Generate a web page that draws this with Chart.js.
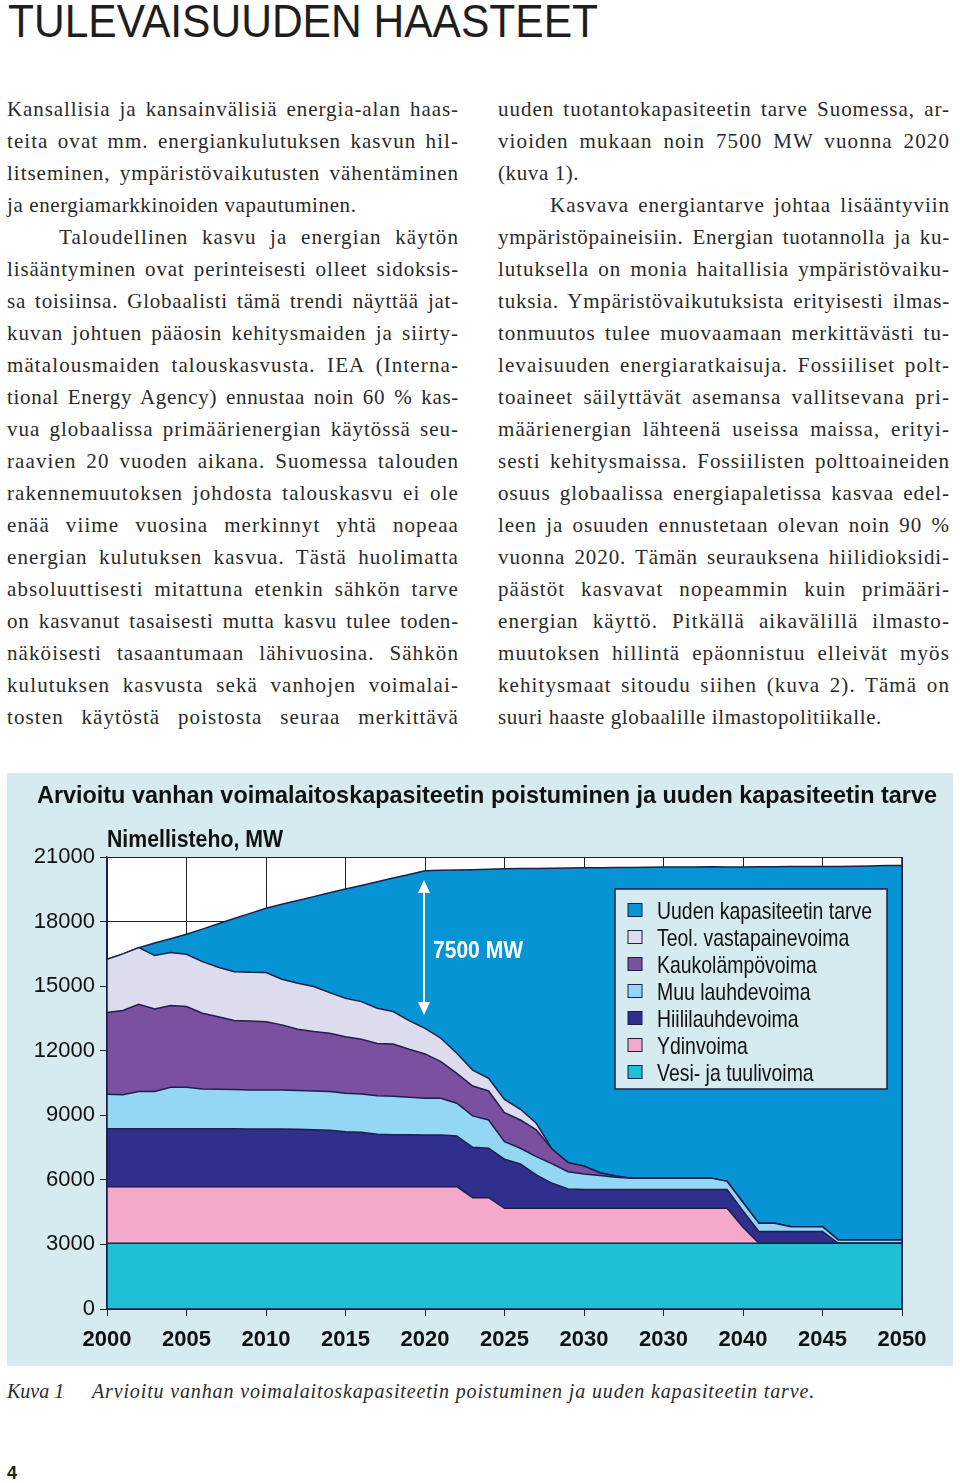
<!DOCTYPE html>
<html lang="fi">
<head>
<meta charset="utf-8">
<title>Tulevaisuuden haasteet</title>
<script src="https://cdn.jsdelivr.net/npm/chart.js@4.4.1/dist/chart.umd.min.js"></script>
<style>
  html, body { margin: 0; padding: 0; background: #fff; }
  body { width: 960px; height: 1483px; position: relative; overflow: hidden; color: #222; }
  #head { position: absolute; left: 8px; top: -4px; font: 47px/50px "Liberation Sans", Arial, sans-serif;
          white-space: nowrap; transform-origin: 0 0; color: #1e1e1e; }
  .col { position: absolute; top: 93px; width: 452px; }
  .ln { height: 32px; line-height: 32px; font-size: 21px; font-family: "Liberation Serif", "Times New Roman", serif;
        white-space: nowrap; color: #2a2a2a; letter-spacing: 0.6px; }
  .ind { padding-left: 52px; }
  #box { position: absolute; left: 7px; top: 773px; width: 946px; height: 593px; background: #d5ebf0; }
  #box canvas { display: block; }
  .cap { position: absolute; top: 1379px; font: italic 20px/24px "Liberation Serif", "Times New Roman", serif;
         white-space: nowrap; color: #2a2a2a; }
  #pg { position: absolute; left: 7px; top: 1463px; font: bold 18px/20px "Liberation Sans", Arial, sans-serif; color: #222; }
</style>
</head>
<body>
<div id="head">TULEVAISUUDEN HAASTEET</div>

<div class="col" style="left:7px">
  <div class="ln j"><span>Kansallisia ja kansainvälisiä energia-alan haas-</span></div>
  <div class="ln j"><span>teita ovat mm. energiankulutuksen kasvun hil-</span></div>
  <div class="ln j"><span>litseminen, ympäristövaikutusten vähentäminen</span></div>
  <div class="ln"><span>ja energiamarkkinoiden vapautuminen.</span></div>
  <div class="ln j ind"><span>Taloudellinen kasvu ja energian käytön</span></div>
  <div class="ln j"><span>lisääntyminen ovat perinteisesti olleet sidoksis-</span></div>
  <div class="ln j"><span>sa toisiinsa. Globaalisti tämä trendi näyttää jat-</span></div>
  <div class="ln j"><span>kuvan johtuen pääosin kehitysmaiden ja siirty-</span></div>
  <div class="ln j"><span>mätalousmaiden talouskasvusta. IEA (Interna-</span></div>
  <div class="ln j"><span>tional Energy Agency) ennustaa noin 60 % kas-</span></div>
  <div class="ln j"><span>vua globaalissa primäärienergian käytössä seu-</span></div>
  <div class="ln j"><span>raavien 20 vuoden aikana. Suomessa talouden</span></div>
  <div class="ln j"><span>rakennemuutoksen johdosta talouskasvu ei ole</span></div>
  <div class="ln j"><span>enää viime vuosina merkinnyt yhtä nopeaa</span></div>
  <div class="ln j"><span>energian kulutuksen kasvua. Tästä huolimatta</span></div>
  <div class="ln j"><span>absoluuttisesti mitattuna etenkin sähkön tarve</span></div>
  <div class="ln j"><span>on kasvanut tasaisesti mutta kasvu tulee toden-</span></div>
  <div class="ln j"><span>näköisesti tasaantumaan lähivuosina. Sähkön</span></div>
  <div class="ln j"><span>kulutuksen kasvusta sekä vanhojen voimalai-</span></div>
  <div class="ln j"><span>tosten käytöstä poistosta seuraa merkittävä</span></div>
</div>

<div class="col" style="left:498px">
  <div class="ln j"><span>uuden tuotantokapasiteetin tarve Suomessa, ar-</span></div>
  <div class="ln j"><span>vioiden mukaan noin 7500 MW vuonna 2020</span></div>
  <div class="ln"><span>(kuva 1).</span></div>
  <div class="ln j ind"><span>Kasvava energiantarve johtaa lisääntyviin</span></div>
  <div class="ln j"><span>ympäristöpaineisiin. Energian tuotannolla ja ku-</span></div>
  <div class="ln j"><span>lutuksella on monia haitallisia ympäristövaiku-</span></div>
  <div class="ln j"><span>tuksia. Ympäristövaikutuksista erityisesti ilmas-</span></div>
  <div class="ln j"><span>tonmuutos tulee muovaamaan merkittävästi tu-</span></div>
  <div class="ln j"><span>levaisuuden energiaratkaisuja. Fossiiliset polt-</span></div>
  <div class="ln j"><span>toaineet säilyttävät asemansa vallitsevana pri-</span></div>
  <div class="ln j"><span>määrienergian lähteenä useissa maissa, erityi-</span></div>
  <div class="ln j"><span>sesti kehitysmaissa. Fossiilisten polttoaineiden</span></div>
  <div class="ln j"><span>osuus globaalissa energiapaletissa kasvaa edel-</span></div>
  <div class="ln j"><span>leen ja osuuden ennustetaan olevan noin 90 %</span></div>
  <div class="ln j"><span>vuonna 2020. Tämän seurauksena hiilidioksidi-</span></div>
  <div class="ln j"><span>päästöt kasvavat nopeammin kuin primääri-</span></div>
  <div class="ln j"><span>energian käyttö. Pitkällä aikavälillä ilmasto-</span></div>
  <div class="ln j"><span>muutoksen hillintä epäonnistuu elleivät myös</span></div>
  <div class="ln j"><span>kehitysmaat sitoudu siihen (kuva 2). Tämä on</span></div>
  <div class="ln"><span>suuri haaste globaalille ilmastopolitiikalle.</span></div>
</div>

<div id="box"><canvas id="capacityChart" width="946" height="593"></canvas></div>

<div class="cap" style="left:7px">Kuva 1</div>
<div class="cap" style="left:92px"><span id="capText">Arvioitu vanhan voimalaitoskapasiteetin poistuminen ja uuden kapasiteetin tarve.</span></div>
<div id="pg">4</div>

<script>
// Arvioitu kapasiteetti vuosittain, MW (luettu kuvasta)
const years = [2000, 2001, 2002, 2003, 2004, 2005, 2006, 2007, 2008, 2009,
  2010, 2011, 2012, 2013, 2014, 2015, 2016, 2017, 2018, 2019,
  2020, 2021, 2022, 2023, 2024, 2025, 2026, 2027, 2028, 2029,
  2030, 2031, 2032, 2033, 2034, 2035, 2036, 2037, 2038, 2039,
  2040, 2041, 2042, 2043, 2044, 2045, 2046, 2047, 2048, 2049, 2050];

const xTickLabels = ["2000", "2005", "2010", "2015", "2020", "2025", "2030", "2030", "2040", "2045", "2050"];

const vesiTuuli = [3050, 3050, 3050, 3050, 3050, 3050, 3050, 3050, 3050, 3050,
  3050, 3050, 3050, 3050, 3050, 3050, 3050, 3050, 3050, 3050,
  3050, 3050, 3050, 3050, 3050, 3050, 3050, 3050, 3050, 3050,
  3050, 3050, 3050, 3050, 3050, 3050, 3050, 3050, 3050, 3050,
  3050, 3050, 3050, 3050, 3050, 3050, 3050, 3050, 3050, 3050, 3050];

const ydinvoima = [2630, 2630, 2630, 2630, 2630, 2630, 2630, 2630, 2630, 2630,
  2630, 2630, 2630, 2630, 2630, 2630, 2630, 2630, 2630, 2630,
  2630, 2630, 2630, 2120, 2120, 1630, 1630, 1630, 1630, 1630,
  1630, 1630, 1630, 1630, 1630, 1630, 1630, 1630, 1630, 1630,
  750, 0, 0, 0, 0, 0, 0, 0, 0, 0, 0];

const hiililauhde = [2700, 2700, 2700, 2700, 2700, 2700, 2700, 2690, 2690, 2680,
  2680, 2680, 2670, 2650, 2620, 2550, 2530, 2440, 2420, 2410,
  2400, 2400, 2360, 2340, 2300, 2280, 2060, 1550, 1160, 900,
  870, 870, 870, 870, 870, 870, 870, 870, 870, 870,
  760, 550, 550, 550, 550, 550, 0, 0, 0, 0, 0];

const muuLauhde = [1600, 1570, 1720, 1730, 1920, 1920, 1840, 1840, 1830, 1820,
  1820, 1810, 1800, 1800, 1800, 1790, 1780, 1790, 1780, 1750,
  1710, 1710, 1520, 1460, 1310, 810, 730, 850, 900, 800,
  720, 650, 570, 530, 530, 530, 530, 530, 530, 380,
  390, 380, 380, 220, 220, 220, 150, 150, 150, 150, 150];

const kaukolampo = [3800, 3920, 4060, 3830, 3800, 3750, 3520, 3370, 3200, 3200,
  3170, 3030, 2850, 2760, 2710, 2630, 2540, 2430, 2430, 2230,
  2060, 1700, 1390, 1390, 1350, 1350, 1310, 1240, 680, 420,
  370, 130, 60, 0, 0, 0, 0, 0, 0, 0,
  0, 0, 0, 0, 0, 0, 0, 0, 0, 0, 0];

const vastapaine = [2470, 2630, 2630, 2480, 2460, 2430, 2400, 2300, 2270, 2260,
  2280, 2120, 2130, 2090, 1890, 1790, 1750, 1630, 1510, 1330,
  1190, 1090, 930, 740, 590, 620, 500, 310, 0, 0,
  0, 0, 0, 0, 0, 0, 0, 0, 0, 0,
  0, 0, 0, 0, 0, 0, 0, 0, 0, 0, 0];

const uusiTarve = [0, 0, 0, 580, 640, 930, 1510, 2020, 2470, 2740,
  2990, 3480, 3850, 4180, 4640, 5070, 5400, 5880, 6200, 6790,
  7320, 7800, 8520, 9310, 9710, 10710, 11180, 11840, 13060, 13690,
  13860, 14170, 14330, 14430, 14440, 14450, 14460, 14460, 14470, 14610,
  15590, 16570, 16570, 16740, 16740, 16740, 17360, 17370, 17380, 17400, 17410];

const chartTitle = "Arvioitu vanhan voimalaitoskapasiteetin poistuminen ja uuden kapasiteetin tarve";
const axisTitle = "Nimellisteho, MW";
const gapLabel = "7500 MW";
const arrowYear = 2020;
const arrowTop = 19930;
const arrowBottom = 13660;
const gapLabelValue = 16680;

const lineColor = "#1c1f4a";
const fontFamily = "'Liberation Sans', Arial, sans-serif";

// body text: stretch justified lines to the column width
function justifyLines() {
  document.querySelectorAll(".ln.j").forEach((div) => {
    const span = div.querySelector("span");
    const target = 452 - (div.classList.contains("ind") ? 52 : 0);
    const chars = span.textContent.length;
    const spaces = (span.textContent.match(/ /g) || []).length;
    // widen the letters a bit more where the line has room for it
    span.style.letterSpacing = "0.6px";
    let w = span.getBoundingClientRect().width;
    const extra = Math.max(0, Math.min(0.5, (target - w - spaces * 3) / chars));
    span.style.letterSpacing = 0.6 + extra + "px";
    w = span.getBoundingClientRect().width;
    if (spaces) span.style.wordSpacing = (target - w) / spaces + "px";
  });
  const head = document.getElementById("head");
  head.style.transform = "scaleX(" + 590 / head.getBoundingClientRect().width + ")";
  const cap = document.getElementById("capText");
  const cw = cap.getBoundingClientRect().width;
  cap.style.letterSpacing = (723 - cw) / cap.textContent.length + "px";
}

const plotBackground = {
  id: "plotBackground",
  beforeDraw(chart) {
    const { ctx, chartArea: a } = chart;
    ctx.save();
    ctx.fillStyle = "#ffffff";
    ctx.fillRect(a.left, a.top, a.width, a.height);
    ctx.restore();
  },
};

const plotFrame = {
  id: "plotFrame",
  afterDatasetsDraw(chart) {
    const { ctx, chartArea: a } = chart;
    ctx.save();
    ctx.strokeStyle = lineColor;
    ctx.lineWidth = 1.5;
    ctx.beginPath();
    ctx.moveTo(a.left, a.top);
    ctx.lineTo(a.left, a.bottom);
    ctx.lineTo(a.right, a.bottom);
    ctx.lineTo(a.right, a.top);
    ctx.stroke();
    ctx.restore();
  },
};

const notes = {
  id: "notes",
  afterDraw(chart) {
    const { ctx } = chart;
    const x = chart.scales.x;
    const y = chart.scales.y;
    ctx.save();
    ctx.textAlign = "left";
    ctx.textBaseline = "alphabetic";
    ctx.fillStyle = "#111";
    ctx.font = "bold 24px " + fontFamily;
    ctx.fillText(chartTitle, 30, 30, 900);
    ctx.font = "bold 23px " + fontFamily;
    ctx.fillText(axisTitle, 100, 74, 176);

    // 7500 MW arrow
    const ax = x.getPixelForValue(arrowYear) - 1;
    const t = y.getPixelForValue(arrowTop);
    const b = y.getPixelForValue(arrowBottom);
    ctx.strokeStyle = "#fff";
    ctx.fillStyle = "#fff";
    ctx.lineWidth = 2;
    ctx.beginPath();
    ctx.moveTo(ax, t + 10);
    ctx.lineTo(ax, b - 10);
    ctx.stroke();
    ctx.beginPath();
    ctx.moveTo(ax, t);
    ctx.lineTo(ax - 6, t + 13);
    ctx.lineTo(ax + 6, t + 13);
    ctx.closePath();
    ctx.fill();
    ctx.beginPath();
    ctx.moveTo(ax, b);
    ctx.lineTo(ax - 6, b - 13);
    ctx.lineTo(ax + 6, b - 13);
    ctx.closePath();
    ctx.fill();
    ctx.font = "bold 24px " + fontFamily;
    ctx.fillText(gapLabel, ax + 9, y.getPixelForValue(gapLabelValue) + 8.5, 90);

    // legend box
    ctx.fillStyle = "#d5ebf0";
    ctx.fillRect(608, 116, 272, 200);
    ctx.strokeStyle = lineColor;
    ctx.lineWidth = 1.5;
    ctx.strokeRect(608, 116, 272, 200);
    const sets = chart.data.datasets.slice().reverse();
    ctx.font = "24px " + fontFamily;
    sets.forEach((ds, i) => {
      const cy = 137 + i * 27;
      ctx.fillStyle = ds.backgroundColor;
      ctx.fillRect(621, cy - 6.5, 14, 13);
      ctx.lineWidth = 1;
      ctx.strokeStyle = lineColor;
      ctx.strokeRect(621, cy - 6.5, 14, 13);
      ctx.save();
      ctx.translate(650, cy + 8.6);
      ctx.scale(0.81, 1);
      ctx.fillStyle = "#111";
      ctx.fillText(ds.label, 0, 0);
      ctx.restore();
    });
    ctx.restore();
  },
};

function areaSet(label, data, color, fill) {
  return {
    label: label,
    data: data,
    backgroundColor: color,
    borderColor: lineColor,
    borderWidth: 1.5,
    pointRadius: 0,
    tension: 0,
    fill: fill,
  };
}

function drawChart() {
  const ctx = document.getElementById("capacityChart").getContext("2d");
  new Chart(ctx, {
    type: "line",
    data: {
      labels: years,
      datasets: [
        areaSet("Vesi- ja tuulivoima", vesiTuuli, "#1fbfd6", "origin"),
        areaSet("Ydinvoima", ydinvoima, "#f4a9cb", "-1"),
        areaSet("Hiililauhdevoima", hiililauhde, "#2f2f8e", "-1"),
        areaSet("Muu lauhdevoima", muuLauhde, "#93d7f4", "-1"),
        areaSet("Kaukolämpövoima", kaukolampo, "#7b50a0", "-1"),
        areaSet("Teol. vastapainevoima", vastapaine, "#dcdcee", "-1"),
        areaSet("Uuden kapasiteetin tarve", uusiTarve, "#0794d5", "-1"),
      ],
    },
    options: {
      responsive: false,
      animation: false,
      events: [],
      layout: { padding: { top: 84, right: 51, left: 0, bottom: 0 } },
      plugins: { legend: { display: false }, tooltip: { enabled: false }, title: { display: false } },
      scales: {
        x: {
          type: "linear",
          min: 2000,
          max: 2050,
          afterFit: (s) => { s.height = 57; },
          grid: { color: "#222", lineWidth: 1, tickLength: 7 },
          border: { color: lineColor, width: 1.5 },
          ticks: {
            stepSize: 5,
            padding: 11,
            maxRotation: 0,
            autoSkip: false,
            color: "#111",
            font: { family: fontFamily, size: 22, weight: "bold" },
            callback: (v) => xTickLabels[Math.round((v - 2000) / 5)],
          },
        },
        y: {
          stacked: true,
          min: 0,
          max: 21000,
          afterFit: (s) => { s.width = 100; },
          grid: { color: "#222", lineWidth: 1, tickLength: 7 },
          border: { color: lineColor, width: 1.5 },
          ticks: {
            stepSize: 3000,
            padding: 5,
            color: "#111",
            font: { family: fontFamily, size: 22 },
            callback: (v) => String(v),
          },
        },
      },
    },
    plugins: [plotBackground, plotFrame, notes],
  });
}

document.addEventListener("DOMContentLoaded", function () {
  justifyLines();
  drawChart();
});
</script>
</body>
</html>
